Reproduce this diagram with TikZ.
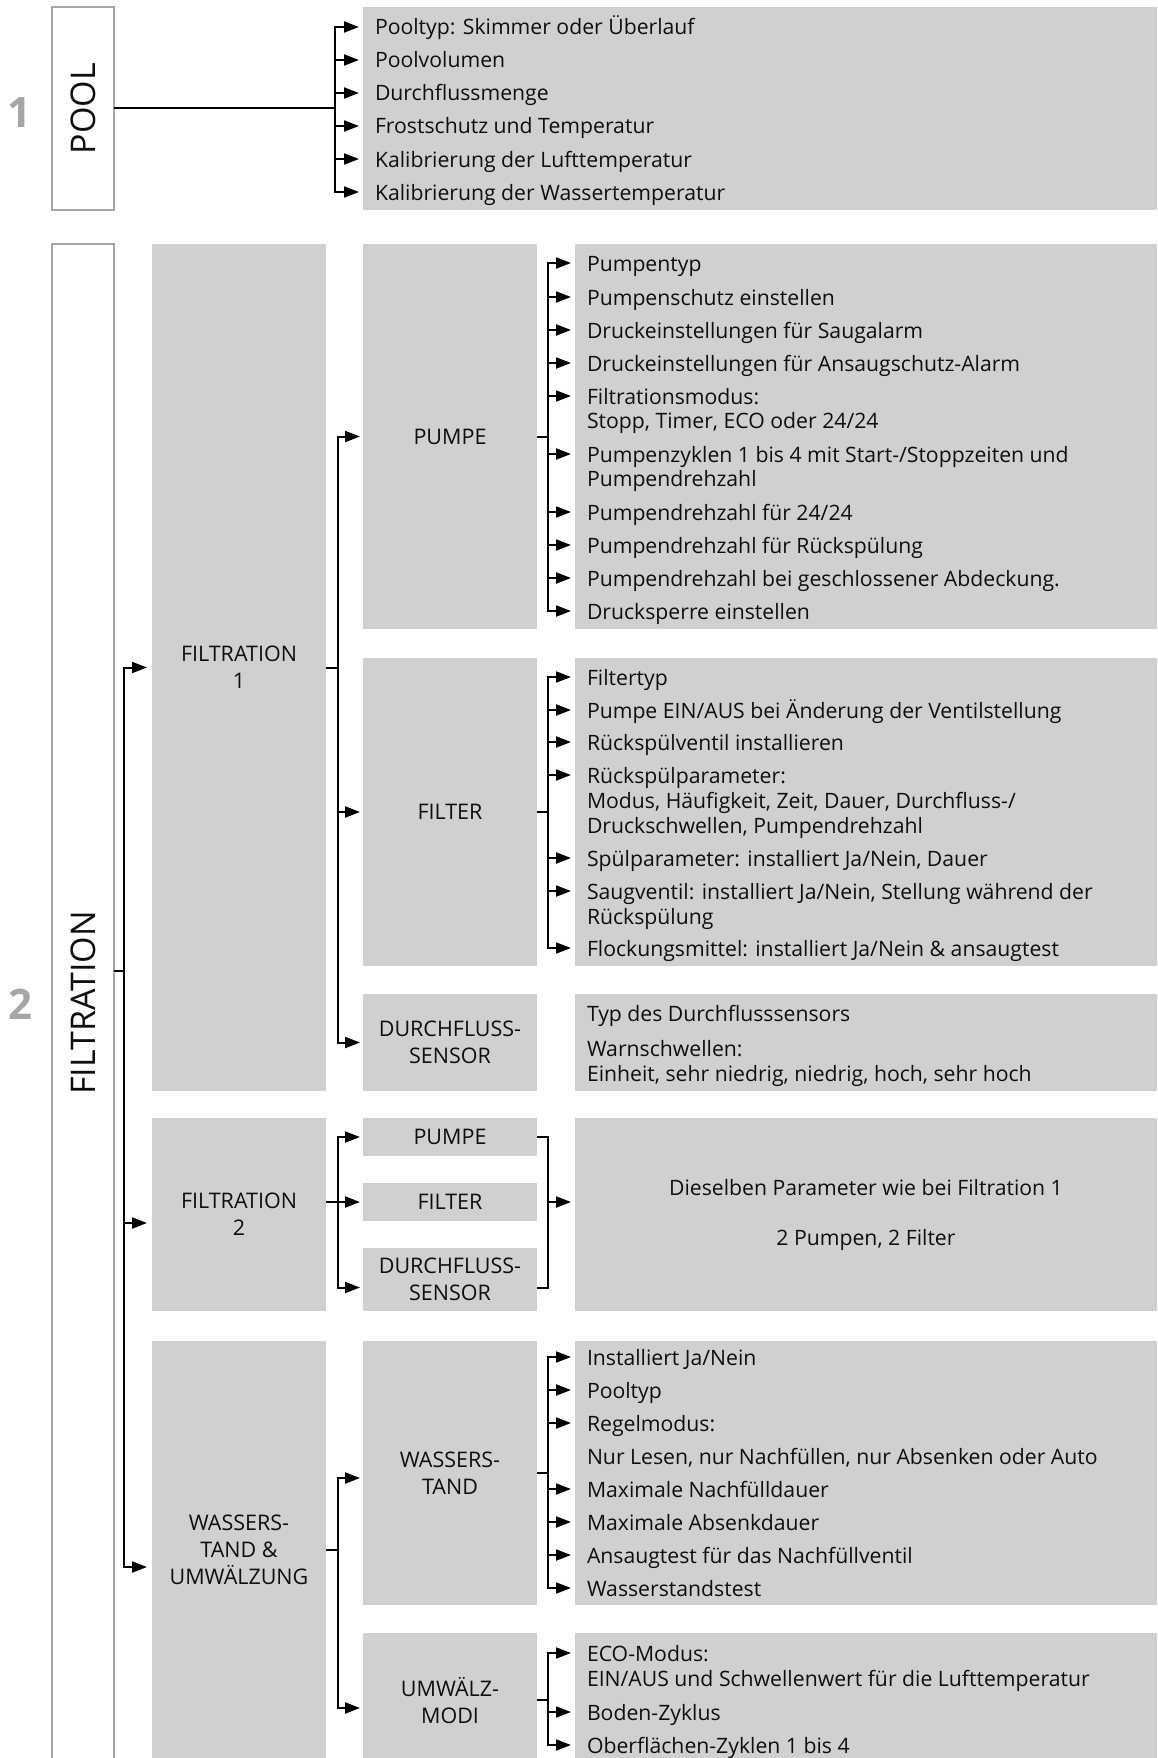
\documentclass[tikz,border=0pt]{standalone}
\usepackage{fontspec}
\setmainfont{Open Sans}
\usetikzlibrary{arrows.meta}
\definecolor{boxgray}{RGB}{208,208,208}
\definecolor{edgegray}{RGB}{166,166,166}
\definecolor{numgray}{RGB}{166,166,166}
\definecolor{txt}{RGB}{15,15,15}
\newcommand{\itemfnt}{\fontsize{21.2pt}{24.5pt}\selectfont}
\newcommand{\labelfnt}{\fontsize{21.5pt}{27pt}\selectfont}
\newcommand{\bigfnt}{\fontsize{34pt}{40pt}\selectfont}
\newcommand{\numfnt}{\fontsize{42pt}{48pt}\selectfont\bfseries}
\begin{document}
\begin{tikzpicture}[x=1pt,y=-1pt,
  box/.style={fill=boxgray, inner sep=0pt, outer sep=0pt, anchor=north west, align=center, font=\labelfnt, text=txt},
  outline/.style={draw=edgegray, line width=2pt, inner sep=0pt, outer sep=0pt, anchor=north west},
  item/.style={anchor=west, inner sep=0pt, outer sep=0pt, font=\itemfnt, text=txt, text height=18pt, text depth=2pt},
  conn/.style={line width=2pt, draw=black},
  arr/.style={conn, -{Triangle[length=15pt,width=11pt]}},
  barr/.style={conn, {Triangle[length=15pt,width=11pt]}-{Triangle[length=15pt,width=11pt]}},
  numb/.style={font=\numfnt, text=numgray, inner sep=0pt},
  vert/.style={font=\bigfnt, text=txt, rotate=90, inner sep=0pt}
]
\useasboundingbox (0,0) rectangle (1157,1758);
\clip (0,0) rectangle (1157,1758);

% ---------- section 1 : POOL ----------
\node[numb] (n1) at (19,113) {1};
\node[outline, minimum width=62pt, minimum height=203pt] (pool) at (52,7) {};
\node[vert] (pooltxt) at (pool.center) {POOL};
\node[box, minimum width=794pt, minimum height=203pt] (poolitems) at (363,7) {};
\node[item] (pi1) at (375,27) {Pooltyp: Skimmer oder Überlauf};
\node[item] (pi2) at (375,60) {Poolvolumen};
\node[item] (pi3) at (375,93) {Durchflussmenge};
\node[item] (pi4) at (375,126) {Frostschutz und Temperatur};
\node[item] (pi5) at (375,159) {Kalibrierung der Lufttemperatur};
\node[item] (pi6) at (375,192) {Kalibrierung der Wassertemperatur};
\coordinate (poolj) at (335,108.5);
\draw[conn] (pool.east) -- (poolj);
\draw[barr, shorten <=16pt, shorten >=16pt] (pi1.west) -| (poolj) |- (pi6.west);
\foreach \n in {pi2,pi3,pi4,pi5}
  \draw[arr, shorten >=16pt] (poolj |- \n.west) -- (\n.west);

% ---------- section 2 : FILTRATION ----------
\node[numb] (n2) at (20,1004) {2};
\node[outline, minimum width=62pt, minimum height=1560pt] (filt) at (52,244) {};
\node[vert] (filttxt) at (83,1003) {FILTRATION};

\node[box, minimum width=174pt, minimum height=847pt] (F1) at (152,244) {FILTRATION\\1};
\node[box, minimum width=174pt, minimum height=193pt] (F2) at (152,1118) {FILTRATION\\2};
\node[box, minimum width=174pt, minimum height=417pt] (WU) at (152,1341) {WASSERS-\\TAND \&\\UMWÄLZUNG};

\node[box, minimum width=174pt, minimum height=385pt] (PU) at (363,244) {PUMPE};
\node[box, minimum width=174pt, minimum height=308pt] (FI) at (363,658) {FILTER};
\node[box, minimum width=174pt, minimum height=97pt] (DS) at (363,994) {DURCHFLUSS-\\SENSOR};
\node[box, minimum width=174pt, minimum height=38pt] (P2) at (363,1118) {PUMPE};
\node[box, minimum width=174pt, minimum height=38pt] (FI2) at (363,1183) {FILTER};
\node[box, minimum width=174pt, minimum height=63pt] (DS2) at (363,1248) {DURCHFLUSS-\\SENSOR};
\node[box, minimum width=174pt, minimum height=264pt] (WS) at (363,1341) {WASSERS-\\TAND};
\node[box, minimum width=174pt, minimum height=134pt] (UM) at (363,1633) {UMWÄLZ-\\MODI};

\node[box, minimum width=582pt, minimum height=385pt] (PUitems) at (575,244) {};
\node[box, minimum width=582pt, minimum height=308pt] (FIitems) at (575,658) {};
\node[box, minimum width=582pt, minimum height=97pt] (DSitems) at (575,994) {};
\node[box, minimum width=582pt, minimum height=193pt, font=\fontsize{21.2pt}{50pt}\selectfont] (big) at (575,1118) {Dieselben Parameter wie bei Filtration 1\\2 Pumpen, 2 Filter};
\node[box, minimum width=582pt, minimum height=264pt] (WSitems) at (575,1341) {};
\node[box, minimum width=582pt, minimum height=134pt] (UMitems) at (575,1633) {};

% PUMPE items
\node[item] (pu1) at (587,263) {Pumpentyp};
\node[item] (pu2) at (587,297) {Pumpenschutz einstellen};
\node[item] (pu3) at (587,330) {Druckeinstellungen für Saugalarm};
\node[item] (pu4) at (587,363) {Druckeinstellungen für Ansaugschutz-Alarm};
\node[item] (pu5a) at (587,396) {Filtrationsmodus:};
\node[item] (pu5b) at (587,420) {Stopp, Timer, ECO oder 24/24};
\node[item] (pu6a) at (587,454) {Pumpenzyklen 1 bis 4 mit Start-/Stoppzeiten und};
\node[item] (pu6b) at (587,478) {Pumpendrehzahl};
\node[item] (pu7) at (587,512) {Pumpendrehzahl für 24/24};
\node[item] (pu8) at (587,545) {Pumpendrehzahl für Rückspülung};
\node[item] (pu9) at (587,578) {Pumpendrehzahl bei geschlossener Abdeckung.};
\node[item] (pu10) at (587,611) {Drucksperre einstellen};

% FILTER items
\node[item] (fi1) at (587,677) {Filtertyp};
\node[item] (fi2) at (587,710) {Pumpe EIN/AUS bei Änderung der Ventilstellung};
\node[item] (fi3) at (587,742) {Rückspülventil installieren};
\node[item] (fi4a) at (587,775) {Rückspülparameter:};
\node[item] (fi4b) at (587,800) {Modus, Häufigkeit, Zeit, Dauer, Durchfluss-/};
\node[item] (fi4c) at (587,825) {Druckschwellen, Pumpendrehzahl};
\node[item] (fi5) at (587,858) {Spülparameter: installiert Ja/Nein, Dauer};
\node[item] (fi6a) at (587,891) {Saugventil: installiert Ja/Nein, Stellung während der};
\node[item] (fi6b) at (587,916) {Rückspülung};
\node[item] (fi7) at (587,948) {Flockungsmittel: installiert Ja/Nein \& ansaugtest};

% DURCHFLUSS-SENSOR items
\node[item] (ds1) at (587,1013) {Typ des Durchflusssensors};
\node[item] (ds2) at (587,1048) {Warnschwellen:};
\node[item] (ds3) at (587,1073) {Einheit, sehr niedrig, niedrig, hoch, sehr hoch};

% WASSERSTAND items
\node[item] (ws1) at (587,1357) {Installiert Ja/Nein};
\node[item] (ws2) at (587,1390) {Pooltyp};
\node[item] (ws3) at (587,1423) {Regelmodus:};
\node[item] (ws4) at (587,1456) {Nur Lesen, nur Nachfüllen, nur Absenken oder Auto};
\node[item] (ws5) at (587,1489) {Maximale Nachfülldauer};
\node[item] (ws6) at (587,1522) {Maximale Absenkdauer};
\node[item] (ws7) at (587,1555) {Ansaugtest für das Nachfüllventil};
\node[item] (ws8) at (587,1588) {Wasserstandstest};

% UMWAELZ items
\node[item] (um1a) at (587,1653) {ECO-Modus:};
\node[item] (um1b) at (587,1678) {EIN/AUS und Schwellenwert für die Lufttemperatur};
\node[item] (um2) at (587,1712) {Boden-Zyklus};
\node[item] (um3) at (587,1745) {Oberflächen-Zyklen 1 bis 4};

% ---------- connectors ----------
% outer bus
\coordinate (fj) at (124,971);
\coordinate (F2in) at ([yshift=-8.5pt]F2.west);
\coordinate (WUin) at ([yshift=-17.5pt]WU.west);
\draw[conn] (fj -| filt.east) -- (fj);
\draw[barr, shorten <=5pt, shorten >=5pt] (F1.west) -| (fj) |- (WUin);
\draw[arr, shorten >=5pt] (fj |- F2in) -- (F2in);

% FILTRATION 1 bus
\coordinate (f1j) at (338,667.5);
\draw[conn] (F1.east) -- (f1j);
\draw[barr, shorten <=3pt, shorten >=3pt] (PU.west) -| (f1j) |- (DS.west);
\draw[arr, shorten >=3pt] (f1j |- FI.west) -- (FI.west);

% PUMPE bus
\coordinate (pj) at (548,436.5);
\draw[conn] (PU.east) -- (pj);
\draw[barr, shorten <=16pt, shorten >=16pt] (pu1.west) -| (pj) |- (pu10.west);
\foreach \n in {pu2,pu3,pu4,pu5a,pu6a,pu7,pu8,pu9}
  \draw[arr, shorten >=16pt] (pj |- \n.west) -- (\n.west);

% FILTER bus
\coordinate (fij) at (548,812);
\draw[conn] (FI.east) -- (fij);
\draw[barr, shorten <=16pt, shorten >=16pt] (fi1.west) -| (fij) |- (fi7.west);
\foreach \n in {fi2,fi3,fi4a,fi5,fi6a}
  \draw[arr, shorten >=16pt] (fij |- \n.west) -- (\n.west);

% FILTRATION 2
\coordinate (f2j) at (338,1202);
\coordinate (DS2in) at ([yshift=-8pt]DS2.west);
\coordinate (DS2out) at ([yshift=-8pt]DS2.east);
\coordinate (f2r) at (548,1202);
\draw[arr, shorten >=3pt] (F2.east |- FI2.west) -- (FI2.west);
\draw[barr, shorten <=3pt, shorten >=3pt] (P2.west) -| (f2j) |- (DS2in);
\draw[conn] (P2.east) -| (f2r) |- (DS2out);
\draw[arr, shorten >=4pt] (f2r) -- (f2r -| big.west);

% WASSERSTAND & UMWAELZUNG bus
\coordinate (wuj) at (338,1549.5);
\coordinate (WSin) at ([yshift=-5pt]WS.west);
\coordinate (UMin) at ([yshift=-8pt]UM.west);
\draw[conn] (WU.east) -- (wuj);
\draw[barr, shorten <=3pt, shorten >=3pt] (WSin) -| (wuj) |- (UMin);

% WASSERSTAND bus
\coordinate (wsj) at (548,1473);
\draw[conn] (WS.east) -- (wsj);
\draw[barr, shorten <=16pt, shorten >=16pt] (ws1.west) -| (wsj) |- (ws8.west);
\foreach \n in {ws2,ws3,ws5,ws6,ws7}
  \draw[arr, shorten >=16pt] (wsj |- \n.west) -- (\n.west);

% UMWAELZ bus
\coordinate (umj) at (548,1700);
\draw[conn] (UM.east) -- (umj);
\draw[barr, shorten <=16pt, shorten >=16pt] (um1a.west) -| (umj) |- (um3.west);
\draw[arr, shorten >=16pt] (umj |- um2.west) -- (um2.west);
\end{tikzpicture}
\end{document}
